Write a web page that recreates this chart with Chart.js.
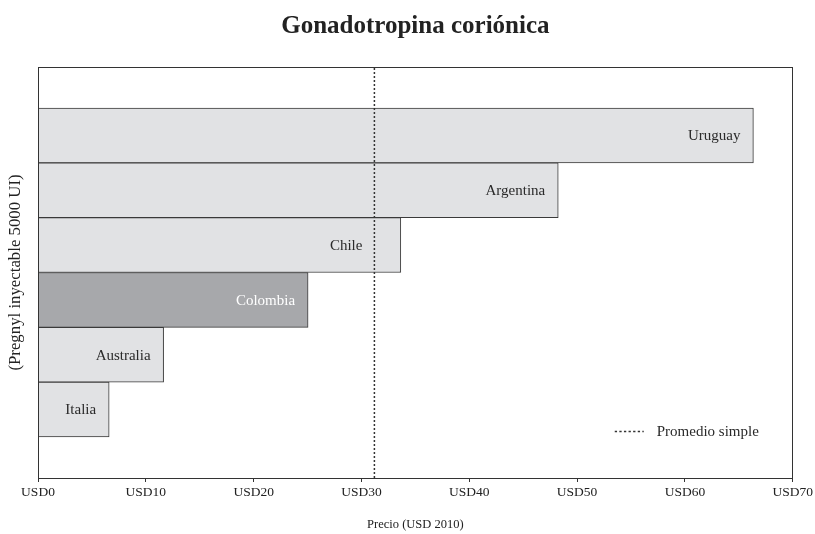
<!DOCTYPE html>
<html>
<head>
<meta charset="utf-8">
<script src="https://cdn.jsdelivr.net/npm/chart.js@4"></script>
<style>
html,body{margin:0;padding:0;background:#fff;}
#wrap{width:815px;height:534px;position:relative;}
</style>
</head>
<body>
<div id="wrap"><canvas id="c"></canvas></div>
<script>
const categories = ['Uruguay', 'Argentina', 'Chile', 'Colombia', 'Australia', 'Italia'];
const prices = [66.35, 48.25, 33.65, 25.05, 11.65, 6.6];
const highlight = 'Colombia';
const average = 31.2;
const averageLabel = 'Promedio simple';
const xTicks = [0, 10, 20, 30, 40, 50, 60, 70];
const titleText = 'Gonadotropina coriónica';
const xTitle = 'Precio (USD 2010)';
const yTitle = '(Pregnyl inyectable 5000 UI)';

const SERIF = "'Liberation Serif', 'DejaVu Serif', serif";
const INK = '#333333';
const n = categories.length;
const barData = categories.map((c, i) => ({ x: prices[i], y: n - i }));
const yRange = { min: -0.25, max: n + 1.25 };

const labelPlugin = {
  id: 'labels',
  afterDatasetsDraw(chart) {
    const ctx = chart.ctx;
    const meta = chart.getDatasetMeta(0);
    const xs = chart.scales.x;
    const avgPx = xs.getPixelForValue(average);
    ctx.save();
    ctx.font = '15px ' + SERIF;
    ctx.textAlign = 'right';
    ctx.textBaseline = 'middle';
    meta.data.forEach((bar, i) => {
      let right = bar.x - 13;
      const w = ctx.measureText(categories[i]).width;
      if (bar.x > avgPx && right > avgPx - 10 && right - w < avgPx + 4) right = avgPx - 12;
      ctx.fillStyle = categories[i] === highlight ? '#ffffff' : '#2a2a2a';
      ctx.fillText(categories[i], right, bar.y + 1);
    });
    ctx.restore();
  },
  afterDraw(chart) {
    const ctx = chart.ctx;
    const a = chart.chartArea;
    ctx.save();
    ctx.strokeStyle = INK;
    ctx.lineWidth = 1;
    ctx.strokeRect(Math.round(a.left) + 0.5, Math.round(a.top) + 0.5, Math.round(a.right - a.left) - 1, Math.round(a.bottom - a.top));
    // legend
    const lx = a.right - 178, ly = a.bottom - 46.5;
    ctx.setLineDash([2.3, 2.3]);
    ctx.lineWidth = 1.5;
    ctx.beginPath();
    ctx.moveTo(lx, ly);
    ctx.lineTo(lx + 29, ly);
    ctx.stroke();
    ctx.setLineDash([]);
    ctx.fillStyle = '#2a2a2a';
    ctx.font = '15px ' + SERIF;
    ctx.textAlign = 'left';
    ctx.textBaseline = 'middle';
    ctx.fillText(averageLabel, lx + 42, ly + 1);
    ctx.restore();
  }
};

new Chart(document.getElementById('c'), {
  data: {
    datasets: [
      {
        type: 'bar',
        label: 'Precio',
        data: barData,
        backgroundColor: categories.map(c => c === highlight ? '#a7a8ab' : '#e1e2e4'),
        borderColor: '#3a3a3a',
        borderWidth: 1,
        barPercentage: 1,
        categoryPercentage: 1,
        order: 2
      },
      {
        type: 'line',
        label: averageLabel,
        data: [{ x: average, y: yRange.min }, { x: average, y: yRange.max }],
        borderColor: INK,
        borderWidth: 1.5,
        borderDash: [2, 2],
        pointRadius: 0,
        fill: false,
        order: 1
      }
    ]
  },
  options: {
    indexAxis: 'y',
    responsive: true,
    maintainAspectRatio: false,
    animation: false,
    layout: { padding: { left: 0, right: 21, top: 0, bottom: 0 } },
    plugins: {
      legend: { display: false },
      tooltip: { enabled: false },
      title: {
        display: true,
        fullSize: false,
        text: titleText,
        color: '#222',
        font: { family: SERIF, size: 25, weight: 'bold', lineHeight: 1.2 },
        padding: { top: 12, bottom: 25 }
      }
    },
    scales: {
      x: {
        type: 'linear',
        position: 'bottom',
        min: xTicks[0],
        max: xTicks[xTicks.length - 1],
        afterBuildTicks(scale) { scale.ticks = xTicks.map(v => ({ value: v })); },
        afterFit(scale) { scale.height = 56; },
        ticks: {
          callback: v => 'USD' + v,
          color: '#222',
          font: { family: SERIF, size: 13.5 },
          padding: 2,
          maxRotation: 0
        },
        grid: { display: true, drawOnChartArea: false, tickLength: 4, color: INK, tickColor: INK },
        border: { display: true, color: INK, width: 1 },
        title: {
          display: true,
          text: xTitle,
          color: '#222',
          font: { family: SERIF, size: 12.5, lineHeight: 1.2 },
          padding: { top: 0, bottom: 2 }
        }
      },
      y: {
        type: 'linear',
        position: 'left',
        offset: false,
        min: yRange.min,
        max: yRange.max,
        afterFit(scale) { scale.width = 38; },
        ticks: { display: false },
        grid: { display: false },
        border: { display: true, color: INK, width: 1 },
        title: {
          display: true,
          text: yTitle,
          color: '#222',
          font: { family: SERIF, size: 16.8, lineHeight: 1.2 },
          padding: { top: 6, bottom: 0 }
        }
      }
    }
  },
  plugins: [labelPlugin]
});
</script>
</body>
</html>
